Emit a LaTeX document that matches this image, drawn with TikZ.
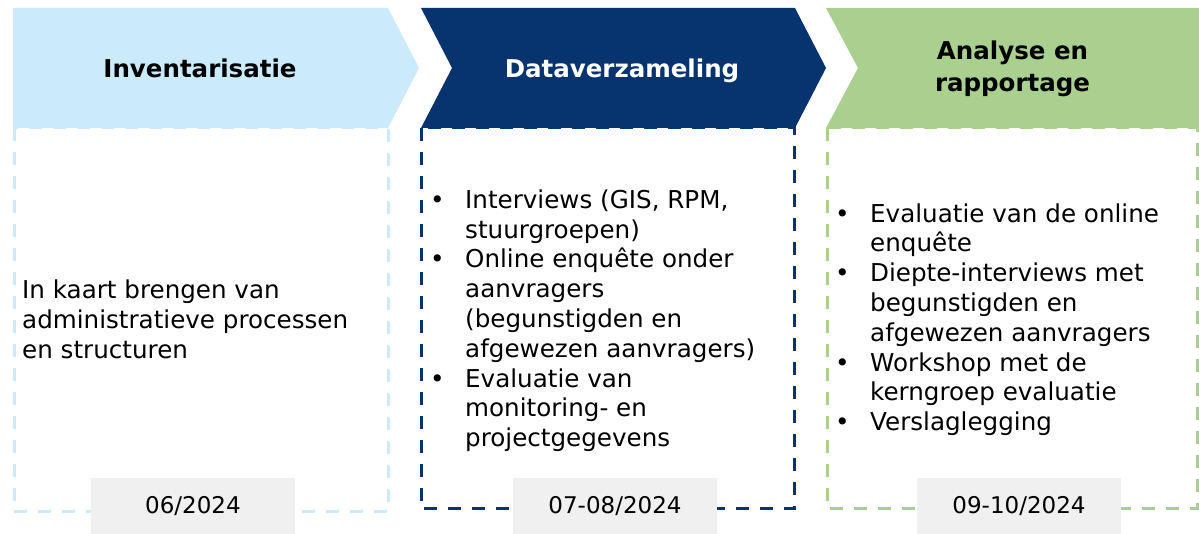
\documentclass[tikz,border=0pt]{standalone}
\usepackage{fontspec}
\setmainfont{DejaVu Sans}
\usetikzlibrary{positioning}
\definecolor{phaseone}{RGB}{203,234,252}
\definecolor{phasetwo}{RGB}{7,51,110}
\definecolor{phasethree}{RGB}{169,208,142}
\definecolor{dategray}{RGB}{240,240,240}
\tikzstyle{heading} = [font=\fontsize{24.5}{31.7}\selectfont\bfseries, align=center, anchor=base, inner sep=0pt]
\tikzstyle{frame} = [line width=3pt, dash pattern=on 13pt off 11pt]
\tikzstyle{datebox} = [rectangle, fill=dategray, minimum width=204pt, minimum height=56pt, inner sep=0pt, font=\fontsize{23}{28}\selectfont]
\tikzstyle{bodytext} = [font=\fontsize{24.6}{29.8}\selectfont, align=left, anchor=base west, inner sep=0pt]
\newcommand{\bul}{\makebox[35pt][l]{\textbullet}}
\newcommand{\ind}{\hspace*{35pt}}

\begin{document}
\begin{tikzpicture}[x=1pt, y=1pt]
   \useasboundingbox (0,0) rectangle (1199,534);

   % phase arrows
   \fill[phaseone] (13,526) -- (388,526) -- (419,466) -- (388,406) -- (13,406) -- cycle;
   \fill[phasetwo] (421,526) -- (795,526) -- (826,466) -- (795,406) -- (421,406) -- (452,466) -- cycle;
   \fill[phasethree] (826,526) -- (1199,526) -- (1199,406) -- (826,406) -- (858,466) -- cycle;

   \node[heading] (inv) at (200,456.7) {Inventarisatie};
   \node[heading, text=white] (data) at (622,456.7) {Dataverzameling};
   \node[heading] (anal) at (1012.5,442.3) {Analyse en\\rapportage};

   % dashed frames
   \draw[frame, phaseone] (14,406) rectangle (388,22);
   \draw[frame, phasetwo] (421,406) rectangle (794,25);
   \draw[frame, phasethree] (827,406) rectangle (1197,25);

   % dates
   \foreach \pos/\name/\label in {{(193,28)/dateone/{06/2024}}, {(615,28)/datetwo/{07-08/2024}}, {(1019,28)/datethree/{09-10/2024}}}
            \node[datebox] (\name) at \pos {\label};

   % contents (base = last line)
   \node[bodytext] (invtext) at (22,175.7) {In kaart brengen van\\administratieve processen\\en structuren};
   \node[bodytext] (datatext) at (430,87.3) {\bul Interviews (GIS, RPM,\\\ind stuurgroepen)\\\bul Online enquête onder\\\ind aanvragers\\\ind (begunstigden en\\\ind afgewezen aanvragers)\\\bul Evaluatie van\\\ind monitoring- en\\\ind projectgegevens};
   \node[bodytext] (analtext) at (835,103.3) {\bul Evaluatie van de online\\\ind enquête\\\bul Diepte-interviews met\\\ind begunstigden en\\\ind afgewezen aanvragers\\\bul Workshop met de\\\ind kerngroep evaluatie\\\bul Verslaglegging};

\end{tikzpicture}
\end{document}
